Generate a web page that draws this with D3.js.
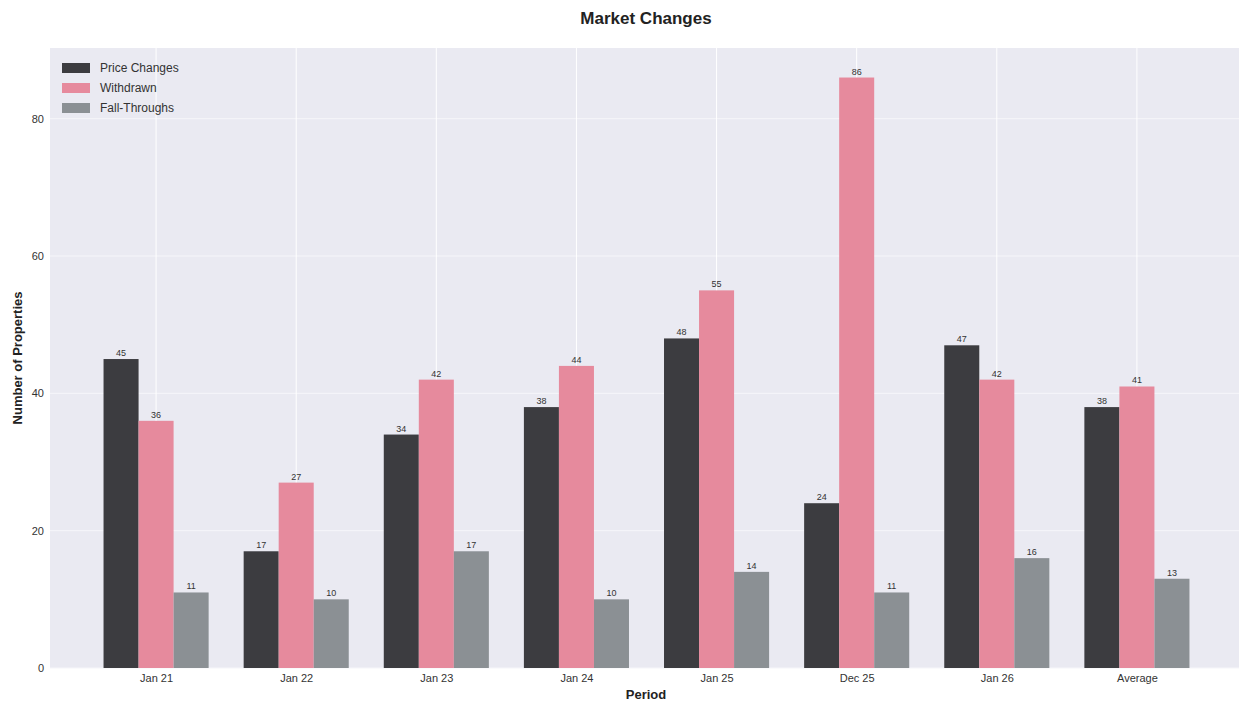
<!DOCTYPE html>
<html><head><meta charset="utf-8">
<script src="https://cdn.jsdelivr.net/npm/d3@7"></script>
<style>body{margin:0;background:#fff;font-family:"Liberation Sans",Arial,sans-serif;}</style>
</head><body>
<svg id="c" width="1239" height="704"></svg>
<script>
const categories = ["Jan 21","Jan 22","Jan 23","Jan 24","Jan 25","Dec 25","Jan 26","Average"];
const priceChanges = [45,17,34,38,48,24,47,38];
const withdrawn = [36,27,42,44,55,86,42,41];
const fallThroughs = [11,10,17,10,14,11,16,13];
const seriesNames = ["Price Changes","Withdrawn","Fall-Throughs"];
const seriesColors = ["#3c3c40","#e68a9d","#8b9094"];
const yTicks = [0,20,40,60,80];

const series = [priceChanges, withdrawn, fallThroughs];
const svg = d3.select("#c");
const L = 50, R = 1243, T = 48, B = 668;
const x = d3.scaleLinear().domain([-0.7571, 7.7571]).range([L, R]);
const y = d3.scaleLinear().domain([0, 90.3]).range([B, T]);
const step = x(1) - x(0);
const bw = step * 0.25;

svg.append("rect").attr("x", L).attr("y", T).attr("width", R - L).attr("height", B - T).attr("fill", "#eaeaf2");
// grid
svg.append("g").selectAll("line").data(yTicks).join("line")
  .attr("x1", L).attr("x2", R).attr("y1", d => y(d)).attr("y2", d => y(d))
  .attr("stroke", "#f6f6fa").attr("stroke-width", 1);
svg.append("g").selectAll("line").data(categories).join("line")
  .attr("x1", (d, i) => x(i)).attr("x2", (d, i) => x(i)).attr("y1", T).attr("y2", B)
  .attr("stroke", "#ffffff").attr("stroke-width", 1);

// bars
series.forEach((vals, s) => {
  const g = svg.append("g");
  g.selectAll("rect").data(vals).join("rect")
    .attr("x", (d, i) => x(i) + (s - 1.5) * bw)
    .attr("y", d => y(d)).attr("width", bw).attr("height", d => B - y(d))
    .attr("fill", seriesColors[s]);
  g.selectAll("text").data(vals).join("text")
    .attr("x", (d, i) => x(i) + (s - 1) * bw)
    .attr("y", d => y(d) - 3)
    .attr("text-anchor", "middle").attr("font-size", 9).attr("fill", "#333")
    .text(d => d);
});

// axes
const xAxis = d3.axisBottom(x).tickValues(d3.range(categories.length)).tickFormat(i => categories[i]).tickSize(0).tickPadding(6);
const gx = svg.append("g").attr("transform", `translate(0,${B})`).call(xAxis);
gx.select(".domain").remove();
gx.selectAll("text").attr("font-size", 11).attr("fill", "#333").attr("font-family", "Liberation Sans, Arial, sans-serif");
const yAxis = d3.axisLeft(y).tickValues(yTicks).tickSize(0).tickPadding(6);
const gy = svg.append("g").attr("transform", `translate(${L},0)`).call(yAxis);
gy.select(".domain").remove();
gy.selectAll("text").attr("font-size", 11).attr("fill", "#333").attr("font-family", "Liberation Sans, Arial, sans-serif");

svg.append("text").attr("x", 646).attr("y", 24).attr("text-anchor", "middle")
  .attr("font-size", 17).attr("font-weight", "bold").attr("fill", "#222").text("Market Changes");
svg.append("text").attr("x", 646).attr("y", 699).attr("text-anchor", "middle")
  .attr("font-size", 13).attr("font-weight", "bold").attr("fill", "#222").text("Period");
svg.append("text").attr("transform", "translate(22,358) rotate(-90)").attr("text-anchor", "middle")
  .attr("font-size", 13).attr("font-weight", "bold").attr("fill", "#222").text("Number of Properties");

// legend
const lg = svg.append("g");
seriesNames.forEach((n, i) => {
  lg.append("rect").attr("x", 62).attr("y", 63 + i * 20).attr("width", 28).attr("height", 10).attr("fill", seriesColors[i]);
  lg.append("text").attr("x", 100).attr("y", 72 + i * 20).attr("font-size", 12).attr("fill", "#333").text(n);
});
</script>
</body></html>
